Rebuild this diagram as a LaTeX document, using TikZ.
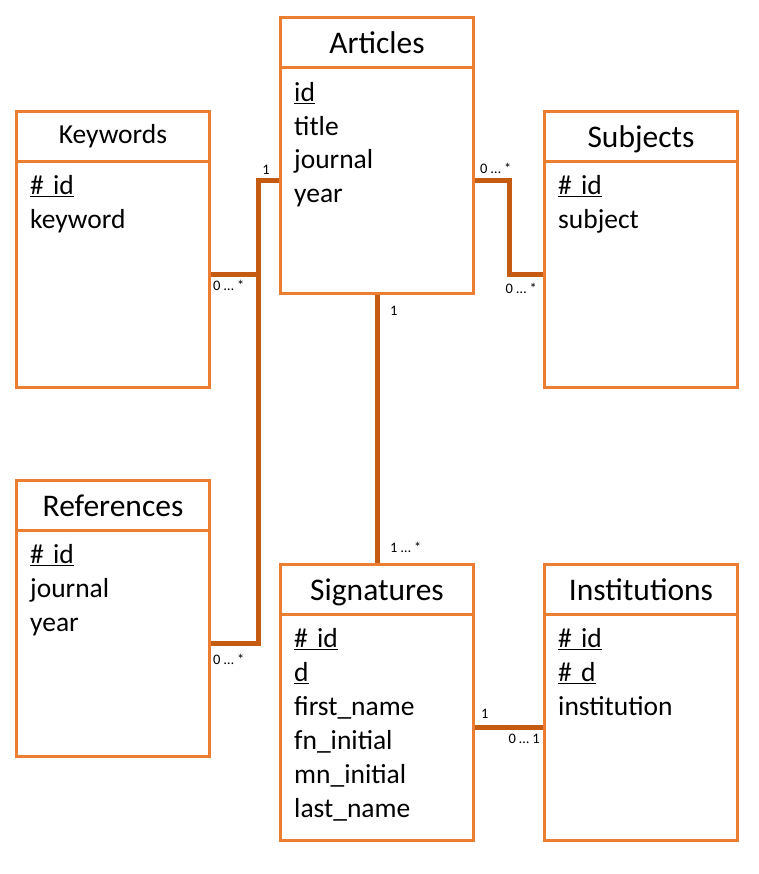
\documentclass[tikz,border=0pt]{standalone}
\usepackage{fontspec}
\setmainfont{Carlito}
\usetikzlibrary{positioning}
\definecolor{boxorange}{HTML}{ED7D31}
\definecolor{linkbrown}{HTML}{C55A11}

\begin{document}
\begin{tikzpicture}[x=1pt, y=-1pt, node distance=0pt,
        head/.style={rectangle, draw=boxorange, line width=3pt, minimum width=193pt, minimum height=50pt, inner sep=0pt, text height=22pt, text depth=0pt, font=\fontsize{31.5}{36}\selectfont},
        smallhead/.style={head, text height=15pt, font=\fontsize{27.5}{33}\selectfont},
        body/.style={rectangle, draw=boxorange, line width=3pt, minimum width=193pt, minimum height=226pt, inner sep=0pt},
        field/.style={inner sep=0pt, text width=165pt, align=left, text height=23pt, text depth=10.5pt, font=\fontsize{27.5}{33.5}\selectfont},
        link/.style={draw=linkbrown, line width=5pt},
        mult/.style={inner sep=0pt, font=\fontsize{14.5}{16}\selectfont}
    ]
        \useasboundingbox (0,0) rectangle (759,874);
        % Articles
        \node[head, anchor=north west] (art_head) at (279,16) {Articles};
        \node[body, below=-3pt of art_head] (art_body) {};
        \node[field, below right=12pt and 15pt of art_body.north west] (art_id) {\underline{id}};
        \node[field, below=0pt of art_id] (art_title) {title};
        \node[field, below=0pt of art_title] (art_journal) {journal};
        \node[field, below=0pt of art_journal] (art_year) {year};
        % Keywords
        \node[smallhead, anchor=north west] (kw_head) at (15,110) {Keywords};
        \node[body, below=-3pt of kw_head] (kw_body) {};
        \node[field, below right=11.5pt and 15pt of kw_body.north west] (kw_id) {\underline{\# id}};
        \node[field, below=0pt of kw_id] (kw_keyword) {keyword};
        % Subjects
        \node[head, anchor=north west] (sub_head) at (543,110) {Subjects};
        \node[body, below=-3pt of sub_head] (sub_body) {};
        \node[field, below right=11.5pt and 15pt of sub_body.north west] (sub_id) {\underline{\# id}};
        \node[field, below=0pt of sub_id] (sub_subject) {subject};
        % References
        \node[head, anchor=north west] (ref_head) at (15,479) {References};
        \node[body, below=-3pt of ref_head] (ref_body) {};
        \node[field, below right=11.5pt and 15pt of ref_body.north west] (ref_id) {\underline{\# id}};
        \node[field, below=0pt of ref_id] (ref_journal) {journal};
        \node[field, below=0pt of ref_journal] (ref_year) {year};
        % Signatures
        \node[head, anchor=north west] (sig_head) at (279,563) {Signatures};
        \node[body, below=-3pt of sig_head] (sig_body) {};
        \node[field, below right=11.5pt and 15pt of sig_body.north west] (sig_id) {\underline{\# id}};
        \node[field, below=0pt of sig_id] (sig_d) {\underline{d}};
        \node[field, below=0pt of sig_d] (sig_first) {first\_name};
        \node[field, below=0pt of sig_first] (sig_fn) {fn\_initial};
        \node[field, below=0pt of sig_fn] (sig_mn) {mn\_initial};
        \node[field, below=0pt of sig_mn] (sig_last) {last\_name};
        % Institutions
        \node[head, anchor=north west] (ins_head) at (543,563) {Institutions};
        \node[body, below=-3pt of ins_head] (ins_body) {};
        \node[field, below right=11.5pt and 15pt of ins_body.north west] (ins_id) {\underline{\# id}};
        \node[field, below=0pt of ins_id] (ins_d) {\underline{\# d}};
        \node[field, below=0pt of ins_d] (ins_institution) {institution};
        % Connections
        \path[link] (kw_body.east) -| ([xshift=-21pt]art_body.west) -- (art_body.west);
        \path[link] (ref_body.east) -| ([xshift=-21pt]art_body.west);
        \path[link] (art_body.east) -| ([xshift=-34pt]sub_body.west) -- (sub_body.west);
        \path[link] (art_body.south) -- (sig_head.north);
        \path[link] (sig_body.east) -- (ins_body.west);
        % Multiplicities
        \node[mult, above left=6pt and 9pt of art_body.west] (m_art_kw) {1};
        \node[mult, below right=6pt and 2pt of kw_body.east] (m_kw) {0 … *};
        \node[mult, above right=7pt and 5pt of art_body.east] (m_art_sub) {0 … *};
        \node[mult, below left=9pt and 6pt of sub_body.west] (m_sub) {0 … *};
        \node[mult, below right=11pt and 13pt of art_body.south] (m_art_sig) {1};
        \node[mult, above right=10pt and 13pt of sig_head.north] (m_sig) {1 … *};
        \node[mult, below right=10pt and 2pt of ref_body.east] (m_ref) {0 … *};
        \node[mult, above right=9pt and 6pt of sig_body.east] (m_sig_ins) {1};
        \node[mult, below left=6pt and 3pt of ins_body.west] (m_ins) {0 … 1};
    \end{tikzpicture}
\end{document}
